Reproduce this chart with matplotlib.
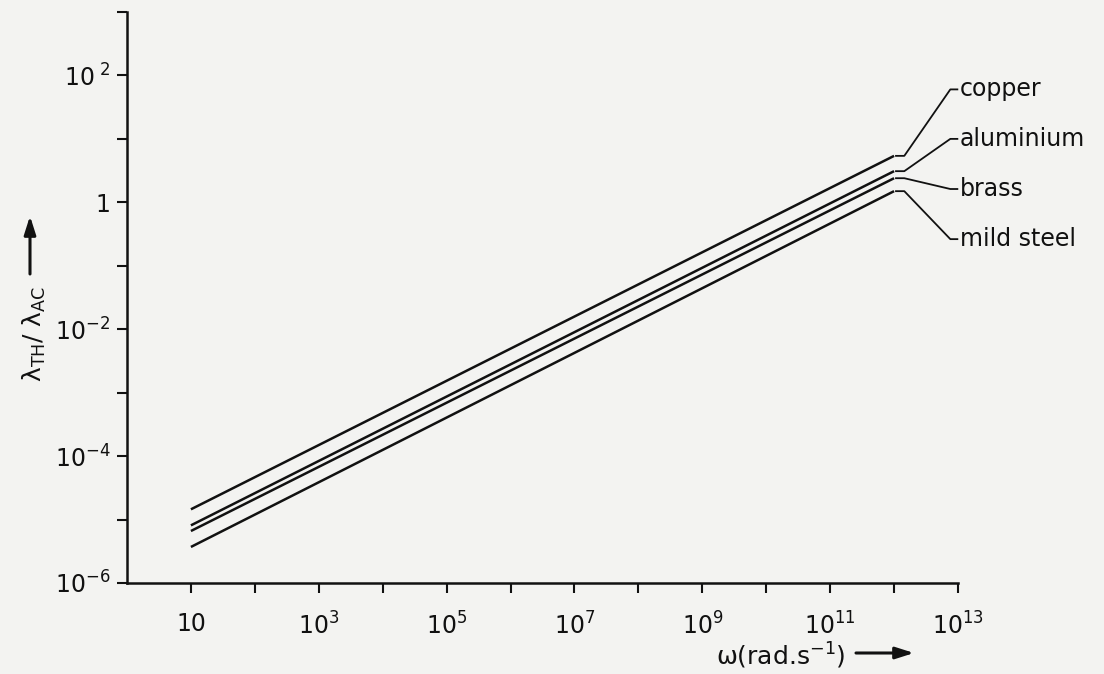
import matplotlib
matplotlib.use('Agg')
import matplotlib.pyplot as plt
import numpy as np

# ── data ─────────────────────────────────────────────────────────────────────
omega = [1e1, 1e12]
materials = ['copper', 'aluminium', 'brass', 'mild steel']
copper = [1.45e-5, 5.4]
aluminium = [8.1e-6, 3.1]
brass = [6.6e-6, 2.4]
mild_steel = [3.7e-6, 1.5]
series = [copper, aluminium, brass, mild_steel]

y_ticks = [1e-6, 1e-4, 1e-2, 1, 1e2]
y_tick_labels = ['10$^{-6}$', '10$^{-4}$', '10$^{-2}$', '1', '10$^{\\ 2}$']
y_minor = [1e-5, 1e-3, 1e-1, 1e1, 1e3]
x_ticks = [1e1, 1e3, 1e5, 1e7, 1e9, 1e11, 1e13]
x_tick_labels = ['10', '10$^{3}$', '10$^{5}$', '10$^{7}$', '10$^{9}$',
                 '10$^{11}$', '10$^{13}$']
x_minor = [1e2, 1e4, 1e6, 1e8, 1e10, 1e12]

# ── layout ───────────────────────────────────────────────────────────────────
bg = '#f3f3f1'
ink = '#111111'
label_logy = [1.78, 1.0, 0.21, -0.58]   # where the material names sit

plt.rcParams['font.family'] = ['DejaVu Sans']
plt.rcParams['mathtext.fontset'] = 'dejavusans'

fig = plt.figure(figsize=(11.04, 6.74), dpi=100, facecolor=bg)
ax = fig.add_axes([127 / 1104, 1 - 583 / 674, 831 / 1104, 571 / 674])
ax.set_facecolor(bg)

for vals in series:
    ax.plot(omega, vals, color=ink, lw=1.8, solid_capstyle='butt')

# leader lines from the line ends to the names
for name, vals, ly in zip(materials, series, label_logy):
    y_end = vals[-1]
    xs = [10 ** 12.03, 10 ** 12.16, 10 ** 12.88, 10 ** 12.99]
    ys = [y_end, y_end, 10 ** ly, 10 ** ly]
    ax.plot(xs, ys, color=ink, lw=1.3, clip_on=False)
    ax.text(10 ** 13.03, 10 ** ly, name, fontsize=17, color=ink,
            ha='left', va='center', clip_on=False)

ax.set_xscale('log')
ax.set_yscale('log')
ax.set_xlim(1, 1e13)
ax.set_ylim(1e-6, 1e3)

ax.set_xticks(x_ticks)
ax.set_xticklabels(x_tick_labels)
ax.set_xticks(x_minor, minor=True)
ax.set_xticklabels([''] * len(x_minor), minor=True)
ax.set_yticks(y_ticks)
ax.set_yticklabels(y_tick_labels)
ax.set_yticks(y_minor, minor=True)
ax.set_yticklabels([''] * len(y_minor), minor=True)

ax.tick_params(which='both', direction='out', length=7, width=1.5,
               color=ink, labelsize=17, labelcolor=ink)
ax.tick_params(axis='x', which='both', pad=14)
ax.tick_params(axis='y', which='both', pad=5)

for side in ['top', 'right']:
    ax.spines[side].set_visible(False)
for side in ['left', 'bottom']:
    ax.spines[side].set_linewidth(1.8)
    ax.spines[side].set_color(ink)

# axis labels with their arrows
fig.text(34 / 1104, 1 - 334 / 674, 'λ$_{\\rm TH}$/ λ$_{\\rm AC}$',
         rotation=90, fontsize=18, ha='center', va='center', color=ink)
ax.annotate('', xy=(30 / 1104, 1 - 216 / 674), xytext=(30 / 1104, 1 - 274 / 674),
            xycoords='figure fraction', textcoords='figure fraction',
            arrowprops=dict(arrowstyle='-|>,head_length=1.1,head_width=0.35',
                            lw=2.2, color=ink, shrinkA=0, shrinkB=0))

fig.text(716 / 1104, 1 - 656 / 674, 'ω(rad.s$^{-1}$)',
         fontsize=18, ha='left', va='center', color=ink)
ax.annotate('', xy=(914 / 1104, 1 - 653 / 674), xytext=(856 / 1104, 1 - 653 / 674),
            xycoords='figure fraction', textcoords='figure fraction',
            arrowprops=dict(arrowstyle='-|>,head_length=1.1,head_width=0.35',
                            lw=2.2, color=ink, shrinkA=0, shrinkB=0))

fig.savefig('out.png', dpi=100, facecolor=bg)
